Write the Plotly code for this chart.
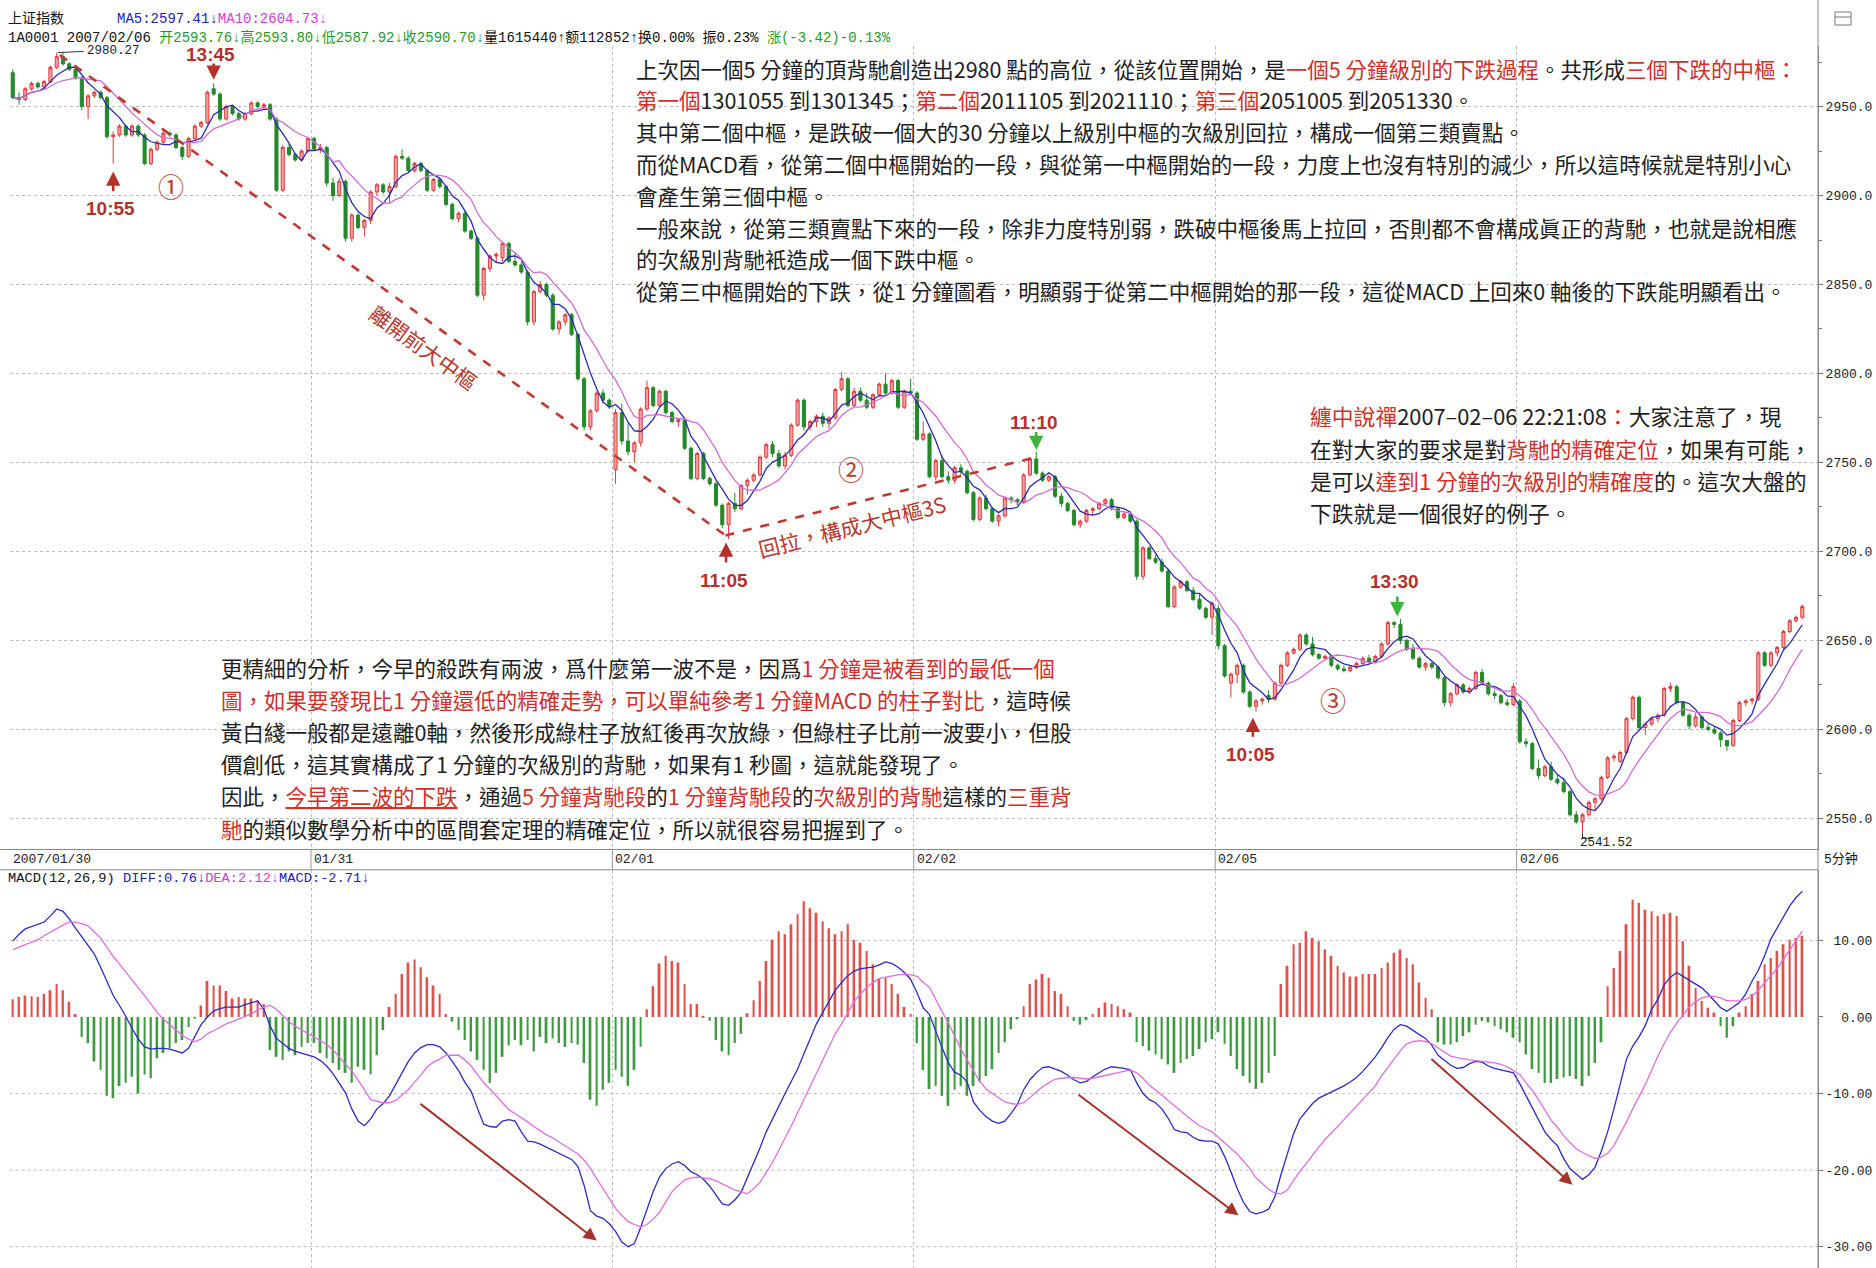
import plotly.graph_objects as go
import pandas as pd

W, H = 1876, 1268

# ---------------- data ----------------
day_labels = ["2007/01/30", "01/31", "02/01", "02/02", "02/05", "02/06"]
day_start_bar = [0, 48, 96, 144, 192, 240]

opens = [
    2969, 2955, 2954, 2960, 2963, 2961, 2964, 2972, 2978, 2974, 2971, 2966, 2950, 2956, 2958, 2955,
    2933, 2934, 2939, 2934, 2939, 2934, 2918, 2926, 2930, 2935, 2934, 2927, 2922, 2932, 2939, 2941,
    2960, 2957, 2943, 2950, 2946, 2943, 2946, 2952, 2950, 2951, 2943, 2903, 2927, 2923, 2920, 2925,
    2932, 2926, 2927, 2907, 2900, 2908, 2876, 2889, 2882, 2886, 2902, 2906, 2902, 2905, 2922, 2921,
    2914, 2918, 2914, 2903, 2909, 2905, 2895, 2887, 2890, 2880, 2876, 2844, 2859, 2866, 2865, 2873,
    2863, 2861, 2857, 2829, 2846, 2850, 2844, 2825, 2829, 2833, 2822, 2797, 2770, 2779, 2789, 2785,
    2746, 2778, 2762, 2756, 2761, 2780, 2792, 2782, 2790, 2778, 2773, 2774, 2758, 2741, 2755, 2741,
    2738, 2726, 2715, 2727, 2724, 2737, 2740, 2743, 2753, 2760, 2755, 2748, 2754, 2771, 2785, 2770,
    2773, 2776, 2772, 2775, 2791, 2797, 2782, 2790, 2785, 2781, 2788, 2794, 2789, 2796, 2781, 2790,
    2789, 2763, 2766, 2742, 2751, 2742, 2740, 2747, 2745, 2733, 2718, 2730, 2724, 2717, 2720, 2730,
    2729, 2728, 2743, 2752, 2744, 2740, 2742, 2731, 2727, 2723, 2715, 2717, 2723, 2724, 2727, 2729,
    2724, 2719, 2721, 2717, 2686, 2702, 2696, 2694, 2689, 2669, 2680, 2683, 2678, 2673, 2668, 2663,
    2668, 2647, 2626, 2631, 2636, 2621, 2613, 2616, 2619, 2617, 2626, 2636, 2643, 2645, 2653, 2648,
    2642, 2640, 2641, 2636, 2634, 2633, 2635, 2637, 2640, 2638, 2641, 2648, 2660, 2659, 2650, 2645,
    2640, 2635, 2637, 2635, 2629, 2615, 2620, 2625, 2621, 2623, 2632, 2626, 2620, 2619, 2615, 2614,
    2616, 2593, 2592, 2578, 2574, 2579, 2572, 2570, 2565, 2552, 2548, 2552, 2559, 2561, 2573, 2584,
    2582, 2587, 2606, 2618, 2601, 2603, 2606, 2608, 2623, 2624, 2615, 2608, 2602, 2607, 2601, 2600,
    2598, 2593.76, 2591, 2605, 2615, 2616, 2617, 2643, 2636, 2643, 2646, 2655, 2661, 2663,
]
highs = [
    2971, 2958, 2961, 2964, 2964, 2965, 2973, 2980.27, 2980, 2975, 2972, 2967, 2957, 2959, 2959, 2956,
    2936, 2940, 2940, 2940, 2940, 2935, 2927, 2931, 2936, 2936, 2935, 2928, 2933, 2940, 2942, 2959,
    2963, 2958, 2951, 2951, 2947, 2947, 2953, 2953, 2952, 2952, 2944, 2928, 2929, 2924, 2926, 2933,
    2933, 2929, 2928, 2910, 2910, 2909, 2890, 2890, 2887, 2903, 2907, 2907, 2907, 2923, 2926, 2922,
    2919, 2919, 2915, 2910, 2910, 2906, 2896, 2891, 2891, 2881, 2877, 2860, 2867, 2868, 2874, 2874,
    2868, 2863, 2858, 2847, 2852, 2851, 2845, 2830, 2834, 2834, 2823, 2798, 2780, 2790, 2791, 2786,
    2780, 2783, 2772, 2762, 2781, 2796, 2793, 2791, 2791, 2779, 2775, 2775, 2759, 2756, 2756, 2742,
    2739, 2727, 2728, 2733, 2738, 2741, 2744, 2754, 2761, 2762, 2757, 2756, 2772, 2786, 2786, 2774,
    2777, 2778, 2776, 2792, 2801, 2798, 2792, 2792, 2789, 2789, 2795, 2800, 2797, 2797, 2791, 2797,
    2790, 2773, 2767, 2752, 2754, 2745, 2748, 2749, 2746, 2734, 2731, 2732, 2725, 2721, 2731, 2731,
    2730, 2744, 2753, 2756, 2745, 2743, 2743, 2733, 2728, 2724, 2718, 2724, 2725, 2728, 2730, 2730,
    2725, 2723, 2722, 2718, 2703, 2703, 2698, 2696, 2690, 2681, 2684, 2684, 2680, 2676, 2669, 2672,
    2670, 2648, 2632, 2637, 2637, 2622, 2617, 2618, 2622, 2627, 2637, 2644, 2646, 2654, 2654, 2652,
    2643, 2642, 2642, 2637, 2636, 2636, 2638, 2641, 2642, 2642, 2649, 2661, 2661, 2662, 2651, 2648,
    2641, 2638, 2638, 2636, 2630, 2621, 2626, 2626, 2624, 2633, 2634, 2627, 2622, 2620, 2617, 2626,
    2617, 2595, 2593, 2583, 2580, 2582, 2575, 2573, 2566, 2554, 2553, 2560, 2562, 2574, 2585, 2586,
    2588, 2607, 2619, 2619, 2604, 2607, 2609, 2624, 2626, 2625, 2616, 2609, 2609, 2608, 2603, 2602,
    2599, 2593.80, 2606, 2616, 2617, 2618, 2644, 2644, 2644, 2647, 2656, 2662, 2664, 2670,
]
lows = [
    2954, 2951, 2953, 2959, 2960, 2960, 2963, 2971, 2973, 2970, 2965, 2948, 2943, 2955, 2954, 2932,
    2918, 2933, 2933, 2933, 2933, 2917, 2917, 2925, 2929, 2933, 2926, 2920, 2921, 2931, 2938, 2940,
    2956, 2942, 2942, 2945, 2942, 2942, 2945, 2949, 2948, 2942, 2902, 2902, 2922, 2919, 2919, 2924,
    2925, 2924, 2905, 2897, 2899, 2874, 2874, 2881, 2877, 2884, 2900, 2901, 2896, 2904, 2920, 2913,
    2913, 2913, 2902, 2902, 2904, 2894, 2886, 2885, 2879, 2875, 2843, 2841, 2857, 2862, 2863, 2862,
    2860, 2856, 2827, 2827, 2845, 2843, 2824, 2822, 2827, 2821, 2796, 2768, 2768, 2778, 2783, 2780,
    2738, 2760, 2754, 2750, 2759, 2779, 2781, 2781, 2777, 2772, 2770, 2757, 2740, 2740, 2740, 2737,
    2725, 2713, 2707, 2722, 2723, 2732, 2739, 2742, 2752, 2753, 2747, 2746, 2753, 2770, 2768, 2768,
    2770, 2770, 2769, 2774, 2790, 2781, 2781, 2784, 2780, 2780, 2787, 2788, 2788, 2780, 2780, 2788,
    2762, 2762, 2741, 2740, 2741, 2738, 2738, 2743, 2732, 2717, 2717, 2723, 2716, 2714, 2719, 2727,
    2726, 2727, 2742, 2743, 2739, 2739, 2730, 2725, 2722, 2714, 2713, 2716, 2720, 2723, 2726, 2723,
    2718, 2718, 2716, 2684, 2684, 2695, 2693, 2688, 2668, 2668, 2679, 2677, 2672, 2667, 2662, 2653,
    2645, 2629, 2618, 2626, 2620, 2612, 2610, 2614, 2615, 2616, 2625, 2635, 2642, 2644, 2647, 2641,
    2639, 2639, 2635, 2633, 2632, 2632, 2634, 2636, 2637, 2637, 2640, 2647, 2657, 2648, 2644, 2639,
    2634, 2633, 2634, 2628, 2613, 2613, 2619, 2620, 2620, 2622, 2625, 2619, 2617, 2614, 2613, 2613,
    2592, 2590, 2577, 2572, 2573, 2571, 2569, 2564, 2551, 2547, 2541.52, 2551, 2555, 2560, 2572, 2582,
    2581, 2586, 2605, 2600, 2597, 2602, 2604, 2607, 2621, 2614, 2607, 2600, 2601, 2600, 2599, 2597,
    2590, 2587.92, 2590, 2604, 2613, 2614, 2616, 2635, 2635, 2641, 2645, 2654, 2660, 2662,
]
closes = [
    2955, 2954, 2960, 2963, 2961, 2964, 2972, 2978, 2974, 2971, 2966, 2950, 2956, 2958, 2955, 2933,
    2934, 2939, 2934, 2939, 2934, 2918, 2926, 2930, 2935, 2934, 2927, 2922, 2932, 2939, 2941, 2958,
    2957, 2943, 2950, 2946, 2943, 2946, 2952, 2950, 2951, 2943, 2903, 2927, 2923, 2920, 2925, 2932,
    2926, 2927, 2907, 2900, 2908, 2876, 2889, 2882, 2886, 2902, 2906, 2902, 2905, 2922, 2921, 2914,
    2918, 2914, 2903, 2909, 2905, 2895, 2887, 2890, 2880, 2876, 2844, 2859, 2866, 2867, 2873, 2863,
    2861, 2857, 2829, 2846, 2850, 2844, 2825, 2829, 2833, 2822, 2797, 2770, 2779, 2789, 2785, 2782,
    2778, 2762, 2756, 2761, 2780, 2792, 2782, 2790, 2778, 2773, 2774, 2758, 2741, 2755, 2741, 2738,
    2726, 2715, 2727, 2724, 2737, 2740, 2743, 2753, 2760, 2755, 2748, 2754, 2771, 2785, 2770, 2773,
    2776, 2772, 2775, 2791, 2797, 2782, 2790, 2785, 2781, 2788, 2794, 2789, 2796, 2781, 2790, 2789,
    2763, 2766, 2742, 2751, 2742, 2740, 2747, 2745, 2733, 2718, 2730, 2724, 2717, 2720, 2730, 2729,
    2728, 2743, 2752, 2744, 2740, 2742, 2731, 2727, 2723, 2715, 2717, 2723, 2724, 2727, 2729, 2724,
    2719, 2721, 2717, 2686, 2702, 2696, 2694, 2689, 2669, 2680, 2683, 2678, 2673, 2668, 2663, 2671,
    2647, 2630, 2631, 2636, 2621, 2613, 2616, 2617, 2617, 2626, 2636, 2643, 2645, 2653, 2648, 2642,
    2640, 2641, 2636, 2634, 2633, 2635, 2637, 2640, 2638, 2641, 2648, 2660, 2659, 2650, 2645, 2640,
    2635, 2637, 2635, 2629, 2615, 2620, 2625, 2621, 2623, 2632, 2626, 2620, 2619, 2615, 2614, 2624,
    2593, 2592, 2578, 2574, 2579, 2572, 2570, 2565, 2552, 2548, 2552, 2559, 2561, 2573, 2584, 2585,
    2587, 2606, 2618, 2601, 2603, 2606, 2608, 2623, 2624, 2615, 2608, 2602, 2607, 2601, 2600, 2598,
    2594.12, 2590.70, 2605, 2615, 2616, 2617, 2643, 2636, 2643, 2646, 2655, 2661, 2663, 2669,
]

diff = [
    9.9, 10.8, 11.5, 11.8, 12.1, 12.4, 13.2, 14.1, 13.8, 12.8,
    11.6, 10.5, 9.4, 8.2, 6.5, 4.7, 2.8, 1.5, 0.1, -1.5,
    -2.9, -3.9, -4.2, -4.1, -4.1, -4.2, -4.5, -4.7, -4.1, -2.5,
    -1.0, 0.0, 0.8, 1.1, 1.3, 1.3, 1.3, 1.6, 1.9, 2.1,
    1.0, -1.2, -2.8, -3.5, -4.1, -4.5, -4.7, -4.9, -5.2, -5.7,
    -6.4, -7.4, -8.6, -9.9, -12.0, -13.6, -14.2, -13.3, -12.0, -11.3,
    -10.3, -8.8, -7.2, -5.8, -4.7, -4.0, -3.6, -3.6, -3.9, -4.7,
    -5.8, -7.0, -8.5, -9.7, -11.9, -14.0, -14.3, -14.4, -13.6, -13.4,
    -13.6, -15.0, -16.2, -16.3, -16.6, -17.0, -17.4, -17.9, -18.3, -18.6,
    -19.5, -22.0, -25.3, -26.0, -26.3, -27.0, -28.0, -29.4, -30.0, -29.6,
    -27.5, -25.0, -22.8, -20.9, -19.8, -19.2, -18.9, -19.4, -20.2, -20.6,
    -21.2, -22.1, -23.2, -24.4, -24.6, -23.9, -22.9, -21.0, -19.1, -17.1,
    -15.0, -13.3, -11.5, -10.0, -8.4, -6.8, -4.8, -2.8, -0.9, 0.6,
    2.0, 3.5, 4.5, 5.4, 6.0, 6.3, 6.4, 6.5, 6.8, 7.2,
    7.0, 6.5, 5.8, 4.9, 3.2, 1.2, 0.3, -1.9, -4.0, -6.0,
    -7.2, -7.6, -8.5, -11.1, -12.2, -13.0, -13.6, -13.9, -13.6, -12.6,
    -11.4, -9.5, -8.2, -7.3, -6.6, -6.5, -6.8, -7.1, -7.6, -8.2,
    -8.6, -8.4, -7.8, -7.3, -6.8, -6.5, -6.6, -6.7, -6.9, -8.6,
    -10.0, -10.8, -11.2, -12.0, -13.2, -14.7, -15.0, -15.1, -15.7, -16.1,
    -16.2, -16.2, -16.6, -18.2, -20.2, -22.4, -24.2, -25.4, -25.7, -25.5,
    -25.1, -23.5, -20.5, -17.7, -15.2, -13.3, -12.3, -11.3, -10.6, -10.2,
    -9.9, -9.5, -9.0, -8.5, -7.9, -7.1, -6.1, -5.2, -4.0, -2.7,
    -1.6, -1.0, -1.2, -1.8, -2.3, -2.8, -3.7, -5.0, -5.7, -6.3,
    -6.7, -6.6, -6.1, -5.8, -5.9, -6.4, -6.7, -6.9, -7.0, -7.3,
    -8.7, -10.3, -12.0, -13.6, -15.0, -16.0, -16.8, -18.5, -19.8, -20.5,
    -21.2, -20.6, -19.6, -17.5, -15.0, -12.0, -8.8, -5.5, -3.8, -2.6,
    -1.1, 1.0, 2.3, 4.2, 5.2, 5.8, 5.3, 4.8, 4.3, 3.8,
    3.0, 2.1, 1.2, 0.76, 1.3, 1.9, 3.0, 4.7, 6.1, 8.0,
    10.2, 11.6, 13.0, 14.5, 15.6, 16.4,
]
dea = [
    8.8, 9.1, 9.5, 9.8, 10.1, 10.6, 11.1, 11.6, 12.0, 12.4,
    12.4, 12.2, 11.9, 11.1, 10.3, 9.1, 7.9, 6.9, 5.9, 4.9,
    3.9, 2.8, 1.7, 0.6, -0.3, -1.0, -1.6, -2.4, -2.9, -3.2,
    -2.9, -2.2, -1.8, -1.3, -0.9, -0.6, -0.3, 0.0, 0.4, 0.9,
    1.3, 1.5, 1.0, 0.2, -0.6, -1.2, -1.7, -2.2, -2.7, -3.1,
    -3.6, -4.3, -5.3, -6.2, -7.0, -8.2, -9.5, -10.8, -11.0, -11.2,
    -11.2, -10.9, -10.2, -9.5, -8.5, -7.6, -6.5, -5.9, -5.5, -5.0,
    -5.0, -5.0, -5.6, -6.4, -7.5, -8.6, -9.4, -10.3, -11.2, -12.1,
    -12.6, -13.1, -13.7, -14.3, -14.9, -15.4, -15.8, -16.3, -16.8, -17.3,
    -17.9, -18.7, -19.8, -21.1, -22.4, -23.7, -25.0, -25.9, -26.7, -27.1,
    -27.4, -27.1, -26.4, -25.5, -24.2, -22.8, -22.0, -21.3, -21.0, -20.9,
    -21.0, -21.1, -21.4, -21.8, -22.2, -22.6, -22.8, -23.1, -22.4, -21.6,
    -20.3, -19.0, -17.4, -15.9, -14.2, -12.5, -10.8, -9.1, -7.4, -5.6,
    -3.9, -2.2, -0.9, 0.6, 2.0, 3.0, 3.9, 4.5, 5.0, 5.2,
    5.4, 5.5, 5.6, 5.5, 5.3, 4.5, 3.9, 2.2, 0.7, -0.8,
    -2.5, -4.2, -5.6, -7.0, -8.4, -9.4, -10.0, -10.6, -11.1, -11.3,
    -11.4, -11.2, -10.5, -9.8, -9.1, -8.6, -8.1, -8.0, -7.9, -7.9,
    -8.0, -8.1, -8.0, -7.8, -7.6, -7.4, -7.2, -7.0, -6.9, -7.3,
    -8.0, -8.9, -9.5, -10.2, -10.9, -11.6, -12.2, -12.9, -13.6, -14.2,
    -14.6, -15.0, -15.7, -16.4, -17.1, -17.9, -18.8, -19.8, -21.0, -21.8,
    -22.5, -23.0, -23.1, -22.6, -21.3, -20.2, -19.1, -18.1, -17.0, -16.0,
    -15.2, -14.3, -13.4, -12.5, -11.6, -10.7, -9.9, -9.0, -7.7, -6.6,
    -5.4, -4.4, -3.5, -3.2, -3.1, -3.2, -3.5, -4.0, -4.5, -5.1,
    -5.3, -5.5, -5.6, -5.7, -5.8, -5.9, -6.0, -6.2, -6.5, -7.0,
    -7.5, -8.6, -9.6, -10.8, -12.2, -13.5, -14.4, -15.5, -16.4, -17.2,
    -17.7, -18.1, -18.5, -18.3, -17.8, -16.8, -15.3, -13.7, -12.0, -10.5,
    -8.8, -7.0, -5.1, -3.5, -2.0, -0.8, 0.3, 1.3, 2.0, 2.5,
    2.7, 2.7, 2.5, 2.12, 2.1, 2.1, 2.3, 2.7, 3.5, 4.5,
    5.4, 6.3, 7.5, 8.8, 10.0, 11.2,
]
macd_bar = [
    2.3, 2.6, 2.8, 2.7, 2.6, 3.0, 3.5, 4.3, 3.5, 2.0,
    0.4, -2.6, -3.4, -5.8, -6.9, -10.3, -10.6, -9.0, -8.6, -7.8,
    -10.0, -7.5, -8.0, -5.4, -4.7, -4.1, -3.4, -3.0, -1.3, -0.2,
    1.5, 4.7, 4.1, 4.1, 3.4, 2.4, 2.6, 2.4, 2.4, 2.2,
    1.7, -4.3, -5.2, -5.6, -4.5, -5.0, -3.9, -3.4, -3.4, -4.7,
    -5.4, -6.0, -6.9, -7.3, -8.6, -6.5, -6.9, -7.5, -5.0, -1.7,
    1.3, 3.0, 5.6, 7.1, 7.5, 6.5, 5.2, 4.1, 3.0, 0.4,
    -0.6, -1.7, -3.0, -4.5, -5.6, -6.9, -8.6, -7.3, -5.2, -3.7,
    -3.0, -3.7, -3.0, -4.5, -2.6, -3.4, -2.8, -3.4, -3.9, -3.4,
    -3.6, -6.0, -10.8, -11.6, -9.5, -8.6, -6.9, -7.8, -9.0, -6.9,
    -3.9, 1.0, 4.0, 7.0, 8.0, 7.3, 7.1, 4.3, 1.7, 1.7,
    0.1, -0.5, -3.0, -4.5, -5.0, -3.4, -2.2, 0.5, 2.2, 4.7,
    7.3, 10.1, 11.2, 10.8, 12.1, 13.4, 15.1, 14.2, 13.6, 12.5,
    11.6, 10.8, 11.2, 12.1, 10.1, 9.7, 8.6, 6.9, 5.0, 5.2,
    4.3, 3.0, 1.3, 0.4, -3.4, -6.9, -9.4, -9.0, -10.3, -11.6,
    -9.5, -9.0, -10.3, -9.0, -8.5, -7.7, -6.8, -4.7, -3.3, -1.6,
    -0.3, 1.4, 4.3, 4.9, 5.6, 5.1, 3.4, 3.0, 1.4, -0.5,
    -1.0, -0.4, 0.4, 1.2, 1.9, 1.7, 1.4, 1.0, 0.6, -3.3,
    -3.8, -4.4, -4.9, -5.5, -6.2, -7.3, -6.0, -5.5, -5.1, -4.2,
    -3.3, -2.9, -2.0, -3.5, -5.1, -6.8, -7.7, -8.6, -9.4, -8.6,
    -7.3, -5.1, 4.3, 6.7, 9.5, 9.7, 11.2, 10.3, 9.9, 8.8,
    8.0, 6.7, 5.8, 5.3, 5.3, 5.6, 5.6, 5.6, 6.4, 7.1,
    8.4, 8.8, 7.7, 6.9, 4.5, 2.5, 1.0, -3.3, -3.6, -3.6,
    -3.3, -2.5, -2.0, -1.0, -0.5, -0.7, -1.2, -1.6, -2.0, -2.7,
    -3.3, -4.9, -6.8, -7.3, -8.6, -8.6, -8.1, -7.9, -7.7, -8.1,
    -9.0, -7.7, -6.0, -3.3, 4.0, 6.4, 8.6, 12.1, 15.3, 14.9,
    14.0, 13.8, 13.2, 13.4, 13.6, 13.2, 9.9, 6.7, 3.8, 2.1,
    1.2, 0.6, -1.2, -2.71, -1.2, 0.6, 1.4, 3.0, 4.7, 6.9,
    7.7, 8.6, 9.5, 10.1, 10.3, 10.6,
]

price_ticks = [2550, 2600, 2650, 2700, 2750, 2800, 2850, 2900, 2950]
price_minor = [2575, 2625, 2675, 2725, 2775, 2825, 2875, 2925, 2975]
macd_ticks = [10, 0, -10, -20, -30]
macd_ticktext = ["\u00a010.00", "\u00a0\u00a00.00", "-10.00", "-20.00", "-30.00"]

# ---------------- derived series ----------------
n = len(closes)
idx = list(range(n))
cs = pd.Series(closes, dtype=float)
ma5 = cs.rolling(5, min_periods=1).mean()
ma10 = cs.rolling(10, min_periods=1).mean()
bar_colors = ["#e2504a" if v >= 0 else "#3e9a3e" for v in macd_bar]
day_bounds = [s - 0.5 for s in day_start_bar[1:]]

# ---------------- geometry (pixels of the 1876x1268 page) ----------------
X0, X1 = 9.6, 1818.0
P_TOP, P_BOT = 45.5, 849.5
M_TOP = 869.8


def fx(px):
    return px / W


def fy(py):
    return 1 - py / H


RED = "#d22f2a"
DARKRED = "#b5302b"
GREEN_ARROW = "#3db53d"
CJK = "Noto Sans CJK TC"
MONO = "Liberation Mono, Noto Sans CJK SC"

fig = go.Figure()
fig.add_trace(go.Candlestick(
    x=idx, open=opens, high=highs, low=lows, close=closes,
    xaxis="x", yaxis="y",
    increasing=dict(line=dict(color="#e0383a", width=1), fillcolor="#f4a3a3"),
    decreasing=dict(line=dict(color="#24892a", width=1), fillcolor="#24892a"),
    whiskerwidth=0, hoverinfo="skip", showlegend=False,
))
fig.add_trace(go.Scatter(x=idx, y=ma5, mode="lines", xaxis="x", yaxis="y",
                         line=dict(color="#2a2ab4", width=1.3), hoverinfo="skip", showlegend=False))
fig.add_trace(go.Scatter(x=idx, y=ma10, mode="lines", xaxis="x", yaxis="y",
                         line=dict(color="#d46ad4", width=1.3), hoverinfo="skip", showlegend=False))
fig.add_trace(go.Bar(x=idx, y=macd_bar, xaxis="x2", yaxis="y2", width=0.3,
                     marker=dict(color=bar_colors, line=dict(width=0)),
                     hoverinfo="skip", showlegend=False))
fig.add_trace(go.Scatter(x=idx, y=diff, mode="lines", xaxis="x2", yaxis="y2",
                         line=dict(color="#2b2bc8", width=1.3), hoverinfo="skip", showlegend=False))
fig.add_trace(go.Scatter(x=idx, y=dea, mode="lines", xaxis="x2", yaxis="y2",
                         line=dict(color="#e06ee0", width=1.3), hoverinfo="skip", showlegend=False))

grid = dict(showgrid=True, gridcolor="#bcbcbc", griddash="dot", gridwidth=1)
fig.update_layout(
    width=W, height=H, margin=dict(l=0, r=0, t=0, b=0),
    paper_bgcolor="white", plot_bgcolor="white", hovermode=False, showlegend=False,
    xaxis=dict(domain=[fx(X0), fx(X1)], range=[-0.5, 287.5], anchor="y",
               showticklabels=False, tickvals=day_bounds, ticks="", zeroline=False,
               rangeslider=dict(visible=False), **grid),
    xaxis2=dict(domain=[fx(X0), fx(X1)], range=[-0.5, 287.5], anchor="y2", matches="x",
                showticklabels=False, tickvals=day_bounds, ticks="", zeroline=False, **grid),
    yaxis=dict(domain=[fy(P_BOT), fy(P_TOP)], range=[2532.5, 2984.3], side="right", anchor="x",
               tickvals=price_ticks, ticktext=[f"{v:.1f}" for v in price_ticks],
               ticks="outside", ticklen=4, tickcolor="#777", showline=True, linecolor="#888",
               zeroline=False, automargin=False,
               tickfont=dict(family=MONO, size=13, color="#222"),
               minor=dict(tickvals=price_minor, ticks="outside", ticklen=3, tickcolor="#777",
                          showgrid=False),
               **grid),
    yaxis2=dict(domain=[0, fy(M_TOP)], range=[-32.78, 19.22], side="right", anchor="x2",
                tickvals=macd_ticks, ticktext=macd_ticktext, ticks="outside", ticklen=4,
                tickcolor="#777", showline=True, linecolor="#888", showgrid=False,
                zeroline=False, automargin=False,
                tickfont=dict(family=MONO, size=13, color="#222")),
)

shapes = []
# frame lines
shapes.append(dict(type="line", xref="paper", yref="paper", x0=fx(X1), x1=fx(X1), y0=0, y1=1,
                   line=dict(color="#888", width=1)))
for yy in (P_BOT, M_TOP):
    shapes.append(dict(type="line", xref="paper", yref="paper", x0=0, x1=fx(X1), y0=fy(yy), y1=fy(yy),
                       line=dict(color="#888", width=1)))
for b in day_bounds:
    shapes.append(dict(type="line", xref="x", yref="paper", x0=b, x1=b, y0=fy(P_BOT), y1=fy(M_TOP),
                       line=dict(color="#999", width=1)))
# MACD dotted grid
for v in (10, -10, -20, -30):
    shapes.append(dict(type="line", xref="paper", yref="y2", x0=fx(X0), x1=fx(X1), y0=v, y1=v,
                       line=dict(color="#bcbcbc", width=1, dash="dot"), layer="below"))
# dashed trend lines
shapes.append(dict(type="line", xref="x", yref="y", x0=7.5, y0=2979, x1=113.5, y1=2709,
                   line=dict(color="#c23a2f", width=2.6, dash="dash")))
shapes.append(dict(type="line", xref="x", yref="y", x0=113.5, y0=2709, x1=163, y1=2753,
                   line=dict(color="#c23a2f", width=2.6, dash="dash")))
# high / low leader lines
shapes.append(dict(type="line", xref="x", yref="y", x0=7.2, y0=2980.27, x1=11.3, y1=2981,
                   line=dict(color="#333", width=1)))
shapes.append(dict(type="line", xref="x", yref="y", x0=250, y0=2541.52, x1=250, y1=2538.8,
                   line=dict(color="#333", width=1)))
shapes.append(dict(type="line", xref="x", yref="y", x0=250, y0=2538.8, x1=251.6, y1=2538.8,
                   line=dict(color="#333", width=1)))
# top-right icon
shapes.append(dict(type="rect", xref="paper", yref="paper", x0=fx(1835), x1=fx(1851), y0=fy(25), y1=fy(12),
                   line=dict(color="#777", width=1)))
shapes.append(dict(type="line", xref="paper", yref="paper", x0=fx(1835), x1=fx(1851), y0=fy(17), y1=fy(17),
                   line=dict(color="#777", width=1)))
fig.update_layout(shapes=shapes)

ann = []


def ptext(xpx, ypx, html, size=21.5, family=CJK, color="#1e1e1e"):
    ann.append(dict(xref="paper", yref="paper", x=fx(xpx), y=fy(ypx), text=html, showarrow=False,
                    xanchor="left", yanchor="middle", font=dict(family=family, size=size, color=color)))


def r(s):
    return f'<span style="color:{RED}">{s}</span>'


def ru(s):
    return f'<span style="color:{RED};text-decoration:underline">{s}</span>'


# header
ptext(6, 19, "上证指数", size=14, family=MONO, color="#111")
ptext(115, 19, '<span style="color:#2020c0">MA5:2597.41↓</span><span style="color:#d040d0">MA10:2604.73↓</span>',
      size=14, family=MONO)
ptext(6, 37, '1A0001 2007/02/06 <span style="color:#1f9a1f">开2593.76↓高2593.80↓低2587.92↓收2590.70↓</span>'
             '量1615440↑额112852↑换0.00% 振0.23% <span style="color:#1f9a1f">涨(-3.42)-0.13%</span>',
      size=14, family=MONO, color="#111")
ptext(6, 878, 'MACD(12,26,9) <span style="color:#2020c0">DIFF:0.76↓</span><span style="color:#d040d0">DEA:2.12↓</span>'
              '<span style="color:#2020c0">MACD:-2.71↓</span>', size=13.7, family=MONO, color="#111")
ptext(1822, 859, "5分钟", size=13, family=MONO, color="#111")

# date labels
for lab, s in zip(day_labels, day_start_bar):
    ann.append(dict(xref="x", yref="paper", x=s - 0.5, y=fy(859), text=lab, showarrow=False,
                    xanchor="left", yanchor="middle", xshift=1,
                    font=dict(family=MONO, size=13, color="#222")))

# top paragraph
top_lines = [
    "上次因一個5 分鐘的頂背馳創造出2980 點的高位，從該位置開始，是" + r("一個5 分鐘級別的下跌過程") + "。共形成" + r("三個下跌的中樞："),
    r("第一個") + "1301055 到1301345；" + r("第二個") + "2011105 到2021110；" + r("第三個") + "2051005 到2051330。",
    "其中第二個中樞，是跌破一個大的30 分鐘以上級別中樞的次級別回拉，構成一個第三類賣點。",
    "而從MACD看，從第二個中樞開始的一段，與從第一中樞開始的一段，力度上也沒有特別的減少，所以這時候就是特別小心",
    "會產生第三個中樞。",
    "一般來說，從第三類賣點下來的一段，除非力度特別弱，跌破中樞後馬上拉回，否則都不會構成眞正的背馳，也就是說相應",
    "的次級別背馳衹造成一個下跌中樞。",
    "從第三中樞開始的下跌，從1 分鐘圖看，明顯弱于從第二中樞開始的那一段，這從MACD 上回來0 軸後的下跌能明顯看出。",
]
for k, line in enumerate(top_lines):
    ptext(634, 68 + 31.8 * k, line)

# right paragraph
right_lines = [
    r("纏中說禪") + "2007–02–06 22:21:08" + r("：") + "大家注意了，現",
    "在對大家的要求是對" + r("背馳的精確定位") + "，如果有可能，",
    "是可以" + r("達到1 分鐘的次級別的精確度") + "的。這次大盤的",
    "下跌就是一個很好的例子。",
]
for k, line in enumerate(right_lines):
    ptext(1308, 416 + 32.3 * k, line, size=21.8)

# bottom-left paragraph
bottom_lines = [
    "更精細的分析，今早的殺跌有兩波，爲什麼第一波不是，因爲" + r("1 分鐘是被看到的最低一個"),
    r("圖，如果要發現比1 分鐘還低的精確走勢，可以單純參考1 分鐘MACD 的柱子對比") + "，這時候",
    "黃白綫一般都是遠離0軸，然後形成綠柱子放紅後再次放綠，但綠柱子比前一波要小，但股",
    "價創低，這其實構成了1 分鐘的次級別的背馳，如果有1 秒圖，這就能發現了。",
    "因此，" + ru("今早第二波的下跌") + "，通過" + r("5 分鐘背馳段") + "的" + r("1 分鐘背馳段") + "的"
    + r("次級別的背馳") + "這樣的" + r("三重背"),
    r("馳") + "的類似數學分析中的區間套定理的精確定位，所以就很容易把握到了。",
]
for k, line in enumerate(bottom_lines):
    ptext(219, 667.5 + 32.1 * k, line)


# chart annotations
def dtext(x, y, s, size=19, color=DARKRED, family="Liberation Sans", angle=0, xanchor="center"):
    ann.append(dict(xref="x", yref="y", x=x, y=y, text=s, showarrow=False, textangle=angle,
                    xanchor=xanchor, yanchor="middle", font=dict(family=family, size=size, color=color)))


def darrow(x, y_head, y_tail, color):
    ann.append(dict(xref="x", yref="y", x=x, y=y_head, ax=x, ay=y_tail, axref="x", ayref="y",
                    text="", showarrow=True, arrowhead=2, arrowsize=1.1, arrowwidth=2.6,
                    arrowcolor=color, standoff=0, startstandoff=0))


dtext(31.5, 2979.2, "<b>13:45</b>")
darrow(32, 2965, 2975, DARKRED)
dtext(15.5, 2892.5, "<b>10:55</b>")
darrow(16, 2913.5, 2901.5, DARKRED)
dtext(113.3, 2683.5, "<b>11:05</b>")
darrow(113.6, 2705, 2693, DARKRED)
dtext(162.6, 2772.6, "<b>11:10</b>")
darrow(163, 2757, 2768, GREEN_ARROW)
dtext(197.1, 2585.8, "<b>10:05</b>")
darrow(197.5, 2606.5, 2595, DARKRED)
dtext(220.1, 2683.2, "<b>13:30</b>")
darrow(220.5, 2663.5, 2675.5, GREEN_ARROW)

dtext(25.2, 2905.6, "①", size=26, family=CJK, color="#c0392b")
dtext(133.5, 2746.4, "②", size=26, family=CJK, color="#c0392b")
dtext(210.2, 2616.7, "③", size=26, family=CJK, color="#c0392b")

dtext(65.5, 2815, "離開前大中樞", size=21, family=CJK, color="#b8382e", angle=36)
dtext(133.7, 2714.3, "回拉，構成大中樞3S", size=21, family=CJK, color="#b8382e", angle=-14)

dtext(11.5, 2981, "2980.27", size=12.5, family=MONO, color="#222", xanchor="left")
dtext(249.3, 2536.4, "2541.52", size=12.5, family=MONO, color="#222", xanchor="left")

# MACD arrows
for (xt, yt, xh, yh) in [(64.7, -11.2, 93.0, -29.2), (169.5, -10.0, 195.2, -25.9), (225.7, -5.3, 248.4, -21.9)]:
    ann.append(dict(xref="x2", yref="y2", x=xh, y=yh, ax=xt, ay=yt, axref="x2", ayref="y2",
                    text="", showarrow=True, arrowhead=2, arrowsize=1.3, arrowwidth=2,
                    arrowcolor="#a8322a", standoff=0))

fig.update_layout(annotations=ann)
fig.write_html("out.html")
